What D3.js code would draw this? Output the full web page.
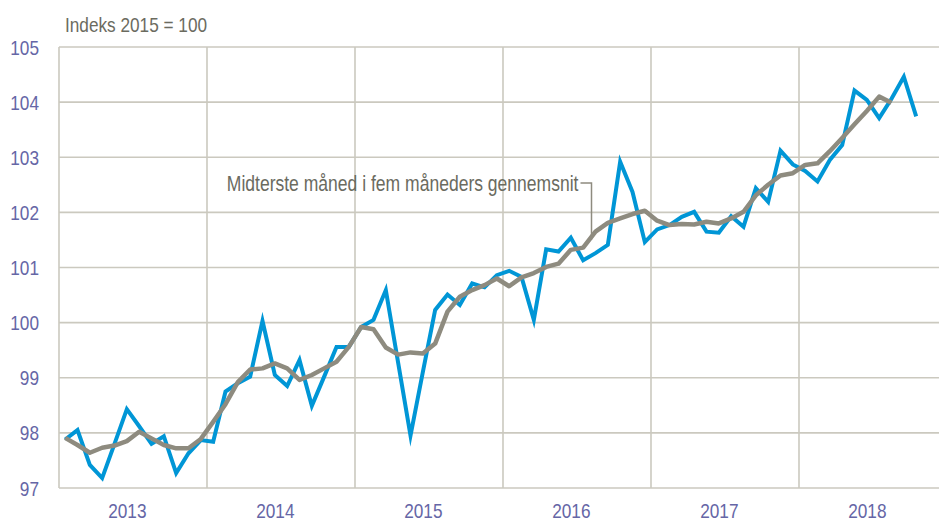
<!DOCTYPE html>
<html>
<head>
<meta charset="utf-8">
<script src="https://cdn.jsdelivr.net/npm/d3@7"></script>
<style>
  html, body { margin: 0; padding: 0; background: #ffffff; }
  svg { display: block; }
</style>
</head>
<body>
<svg id="chart" width="939" height="522"></svg>
<script>
// ---- data (monthly, Jan 2013 onwards) ----
const years = ["2013", "2014", "2015", "2016", "2017", "2018"];
const yTicks = [97, 98, 99, 100, 101, 102, 103, 104, 105];

const indexValues = [
  97.88, 98.05, 97.42, 97.18, 97.80, 98.43, 98.12, 97.80, 97.94, 97.27, 97.63, 97.87,
  97.84, 98.75, 98.90, 99.02, 100.03, 99.05, 98.85, 99.32, 98.49, 99.02, 99.56, 99.56,
  99.92, 100.05, 100.59, 99.27, 97.95, 99.10, 100.23, 100.51, 100.32, 100.71, 100.64, 100.86,
  100.94, 100.83, 100.05, 101.33, 101.29, 101.54, 101.13, 101.26, 101.41, 102.92, 102.37, 101.46,
  101.69, 101.77, 101.92, 102.01, 101.65, 101.63, 101.93, 101.74, 102.44, 102.19, 103.12, 102.87,
  102.75, 102.56, 102.95, 103.22, 104.21, 104.04, 103.71, 104.06, 104.46, 103.74
];

const movingAvg = [
  97.91, 97.78, 97.64, 97.73, 97.77, 97.85, 98.02, 97.90, 97.78, 97.72, 97.72, 97.89,
  98.20, 98.52, 98.92, 99.15, 99.17, 99.26, 99.17, 98.96, 99.05, 99.17, 99.29, 99.56,
  99.92, 99.88, 99.55, 99.42, 99.46, 99.44, 99.62, 100.20, 100.47, 100.59, 100.68, 100.80,
  100.66, 100.82, 100.90, 101.01, 101.07, 101.32, 101.36, 101.65, 101.81, 101.89, 101.97, 102.03,
  101.85, 101.77, 101.79, 101.78, 101.83, 101.80, 101.89, 102.01, 102.31, 102.50, 102.67, 102.71,
  102.86, 102.89, 103.11, 103.35, 103.60, 103.84, 104.10, 103.99
];

const titleText = "Indeks 2015 = 100";
const annotationText = "Midterste måned i fem måneders gennemsnit";
const annotationMonth = 43.5; // month index where leader meets the average line

// ---- layout ----
const svg = d3.select("#chart");
const plot = { left: 59, right: 947, top: 47, bottom: 488 };

const x = d3.scaleLinear().domain([0, years.length * 12]).range([plot.left, plot.right]);
const y = d3.scaleLinear().domain([97, 105]).range([plot.bottom, plot.top]);

// detect narrow font availability
function detectNarrow() {
  const t = svg.append("text").attr("font-size", 40).text("Indeks 2015 gennemsnit");
  t.attr("font-family", "'Liberation Sans Narrow', monospace");
  const w1 = t.node().getComputedTextLength();
  t.attr("font-family", "monospace");
  const w2 = t.node().getComputedTextLength();
  t.remove();
  return Math.abs(w1 - w2) > 1;
}
const narrowOK = detectNarrow();
const fontFamily = narrowOK ? "'Liberation Sans Narrow', 'Liberation Sans', Arial, sans-serif"
                            : "'Liberation Sans', Arial, sans-serif";
const squeeze = narrowOK ? "" : " scale(0.82,1)";

const gridColor = "#cbc9bf";
const labelColor = "#6566a6";
const textGrey = "#6b6b5f";

// ---- grid ----
const grid = svg.append("g");
grid.selectAll("line.h").data(yTicks).join("line")
  .attr("x1", plot.left).attr("x2", plot.right)
  .attr("y1", d => y(d)).attr("y2", d => y(d))
  .attr("stroke", gridColor).attr("stroke-width", 1.6);
grid.selectAll("line.v").data(d3.range(0, years.length + 1)).join("line")
  .attr("x1", d => x(d * 12)).attr("x2", d => x(d * 12))
  .attr("y1", plot.top).attr("y2", plot.bottom)
  .attr("stroke", gridColor).attr("stroke-width", 1.6);

// ---- y axis labels ----
const yAxis = svg.append("g")
  .attr("transform", `translate(${plot.left},0)`)
  .call(d3.axisLeft(y).tickValues(yTicks).tickSize(0).tickPadding(20).tickFormat(d3.format("d")));
yAxis.select(".domain").remove();
yAxis.selectAll(".tick text")
  .attr("x", null).attr("dy", null)
  .attr("transform", "translate(-20,0)" + squeeze)
  .attr("dominant-baseline", "central")
  .attr("text-anchor", "end")
  .attr("font-family", fontFamily)
  .attr("font-size", 21)
  .attr("fill", labelColor);

// ---- x axis labels ----
const xAxis = svg.append("g")
  .attr("transform", `translate(0,${plot.bottom})`)
  .call(d3.axisBottom(x).tickValues(years.map((d, i) => i * 12 + 5.5)).tickSize(0)
        .tickFormat((d, i) => years[i]));
xAxis.select(".domain").remove();
xAxis.selectAll(".tick text")
  .attr("y", null).attr("dy", null)
  .attr("transform", "translate(0,23)" + squeeze)
  .attr("dominant-baseline", "central")
  .attr("text-anchor", "middle")
  .attr("font-family", fontFamily)
  .attr("font-size", 21)
  .attr("fill", labelColor);

// ---- lines ----
const line = d3.line().x((d, i) => x(i + 0.5)).y(d => y(d));

svg.append("path").datum(indexValues)
  .attr("d", line)
  .attr("fill", "none")
  .attr("stroke", "#0096d6")
  .attr("stroke-width", 4)
  .attr("stroke-linejoin", "miter")
  .attr("stroke-miterlimit", 6);

svg.append("path").datum(movingAvg)
  .attr("d", line)
  .attr("fill", "none")
  .attr("stroke", "#8e8b7f")
  .attr("stroke-width", 4.5)
  .attr("stroke-linejoin", "round");

// ---- annotation ----
const annX = x(annotationMonth) - 4;
const annY = 183;
const annLineY = y(d3.interpolateNumber(movingAvg[42], movingAvg[43])(0.5));
svg.append("path")
  .attr("d", `M${annX - 11},${annY} H${annX} V${annLineY}`)
  .attr("fill", "none")
  .attr("stroke", "#8e8b7f")
  .attr("stroke-width", 1.5);

svg.append("text")
  .attr("transform", `translate(${annX - 13},${annY})` + squeeze)
  .attr("text-anchor", "end")
  .attr("dominant-baseline", "central")
  .attr("font-family", fontFamily)
  .attr("font-size", 21.4)
  .attr("fill", textGrey)
  .text(annotationText);

// ---- title ----
svg.append("text")
  .attr("transform", "translate(65,32)" + squeeze)
  .attr("font-family", fontFamily)
  .attr("font-size", 21)
  .attr("fill", textGrey)
  .text(titleText);
</script>
</body>
</html>
